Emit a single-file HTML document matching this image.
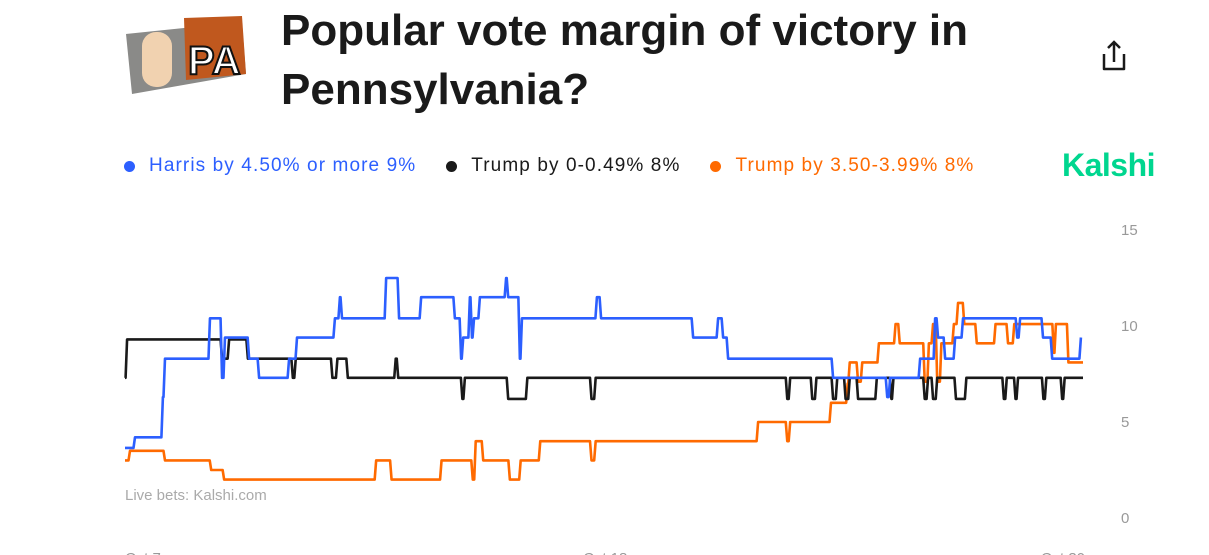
<!DOCTYPE html>
<html><head><meta charset="utf-8"><style>
body{margin:0;width:1209px;height:555px;overflow:hidden;background:#fff;font-family:"Liberation Sans",sans-serif;position:relative}
.title{position:absolute;left:281px;top:1px;font-size:44px;font-weight:bold;line-height:59px;color:#1a1a1a;letter-spacing:0px}
.legend{position:absolute;top:155px;left:124px;font-size:19px;letter-spacing:1.1px;display:flex;white-space:nowrap}
.li{display:flex;align-items:center;margin-right:30px}
.dot{width:11px;height:11px;border-radius:50%;margin-right:14px}
.kalshi{position:absolute;left:1062px;top:147px;font-size:32px;font-weight:bold;color:#00d68f;letter-spacing:-0.5px}
</style></head><body>
<svg style="position:absolute;left:124px;top:14px" width="125" height="82">
<polygon points="2,20 118,8 122,60 8,80" fill="#8a8a88"/>
<polygon points="60,4 118,2 122,60 62,66" fill="#c0581e"/>
<rect x="18" y="18" width="30" height="55" rx="14" fill="#f1d2b0"/>
<text x="64" y="60" font-size="40" font-weight="bold" fill="#fff" stroke="#111" stroke-width="2" font-family="Liberation Sans,sans-serif">PA</text>
</svg>
<div class="title">Popular vote margin of victory in<br>Pennsylvania?</div>
<svg style="position:absolute;left:1100px;top:38px" width="30" height="36">
<path d="M4 16 v15 h20 v-15" fill="none" stroke="#1a1a1a" stroke-width="2.5" stroke-linejoin="round"/>
<path d="M14 24 V4 M8 10 L14 4 L20 10" fill="none" stroke="#1a1a1a" stroke-width="2.5"/>
</svg>
<div class="legend">
<div class="li" style="color:#2c5fff"><span class="dot" style="background:#2c5fff"></span>Harris by 4.50% or more 9%</div>
<div class="li" style="color:#1a1a1a"><span class="dot" style="background:#1a1a1a"></span>Trump by 0-0.49% 8%</div>
<div class="li" style="color:#ff6a00"><span class="dot" style="background:#ff6a00"></span>Trump by 3.50-3.99% 8%</div>
</div>
<div class="kalshi">Kalshi</div>
<svg id="chart" style="position:absolute;left:0;top:0" width="1209" height="555"></svg>
<script>
const blueT=[0,0.24,0.91,0.96,2.04,2.33,2.4,2.98,3.22,3.94,4.13,5.04,5.16,5.21,6.27,6.58,7.11,7.92,8.07,8.12,8.28,8.33,8.38,8.52,9.15,9.2,9.48,9.53,11.33,11.43,13.64,14.24,14.36,14.48,17,18.3,18.37,19.09,19.45,19.52,19.69,19.93,20.12,21.42,21.49,22.04,22.26,22.95];
const blueV=[3.65,4.2,6.3,8.3,10.4,7.3,9.4,8.3,7.3,8.3,9.4,10.4,11.5,10.4,12.5,10.4,11.5,10.4,8.3,9.4,11.5,9.4,10.4,11.5,12.5,11.5,8.3,10.4,11.5,10.4,9.4,10.4,9.4,8.3,7.3,6.3,7.3,8.3,10.4,9.4,8.3,9.4,10.4,9.4,10.4,9.4,8.3,9.4];
const blackT=[0,0.05,2.33,2.5,2.95,4.03,4.1,4.98,5.1,5.35,6.5,6.56,8.1,8.16,9.2,9.66,11.2,11.3,15.9,15.97,16.5,16.6,17,17.1,17.3,17.4,17.6,18.05,18.4,18.45,19.2,19.28,19.4,19.5,19.95,20.2,21.1,21.17,21.38,21.44,22.05,22.12,22.5,22.56,23];
const blackV=[7.3,9.3,8.3,9.3,8.3,7.3,8.3,7.3,8.3,7.3,8.3,7.3,6.2,7.3,6.2,7.3,6.2,7.3,6.2,7.3,6.2,7.3,6.2,7.3,6.2,7.3,6.2,7.3,6.2,7.3,6.2,7.3,6.2,7.3,6.2,7.3,6.2,7.3,6.2,7.3,6.2,7.3,6.2,7.3,7.3];
const orangeT=[0,0.12,0.96,2.07,2.38,6.03,6.4,7.6,8.35,8.42,8.6,9.24,9.5,9.97,11.2,11.3,15.2,15.9,15.97,16.95,17.35,17.4,17.6,17.7,18.1,18.5,18.6,19.2,19.3,19.4,19.5,19.6,19.9,20.0,20.15,20.45,20.9,21.2,21.35,22.3,22.35,22.65,23];
const orangeV=[3.0,3.5,3.0,2.5,2.0,3.0,2.0,3.0,2.0,4.0,3.0,2.0,3.0,4.0,3.0,4.0,5.0,4.0,5.0,6.0,7.0,8.1,7.1,8.1,9.1,10.1,9.1,7.1,9.1,10.1,7.1,9.1,10.1,11.2,10.1,9.1,10.1,9.1,10.1,8.6,10.1,8.1,8.1];
const yTicks=[0,5,10,15];
const xTickDays=[0,11,23];
const xTickLabels=["Oct 7","Oct 18","Oct 30"];
const svg=document.getElementById('chart');
const NS='http://www.w3.org/2000/svg';
const X=d=>125+d*(1083-125)/23;
const Y=v=>518-v*19.2;
function el(t,a){const e=document.createElementNS(NS,t);for(const k in a)e.setAttribute(k,a[k]);svg.appendChild(e);return e;}
yTicks.forEach(v=>{
 const t=el('text',{x:1121,y:Y(v)+5,'font-size':15,fill:'#999'});
 t.textContent=v;
 
 
});
xTickDays.forEach((d,i)=>{
 const t=el('text',{x:i==2?X(d)+2:X(d),y:563,'font-size':15,fill:'#999','text-anchor':i==2?'end':'start'});
 t.textContent=xTickLabels[i];
 
 
});
const src=el('text',{x:125,y:500,'font-size':15,fill:'#aaa'});
src.textContent='Live bets: Kalshi.com';


function line(T,V,c,name){
 let d='M'+X(T[0])+' '+Y(V[0]);
 for(let i=1;i<T.length;i++){d+=' L'+(X(T[i])-1.5)+' '+Y(V[i-1])+' L'+X(T[i])+' '+Y(V[i]);}
 const p=el('path',{d:d,fill:'none',stroke:c,'stroke-width':2.6,'stroke-linejoin':'round'});
 
 
}
line(orangeT,orangeV,'#ff6a00','series-trump-3-5');
line(blackT,blackV,'#1a1a1a','series-trump-0');
line(blueT,blueV,'#2c5fff','series-harris');
</script>
</body></html>
